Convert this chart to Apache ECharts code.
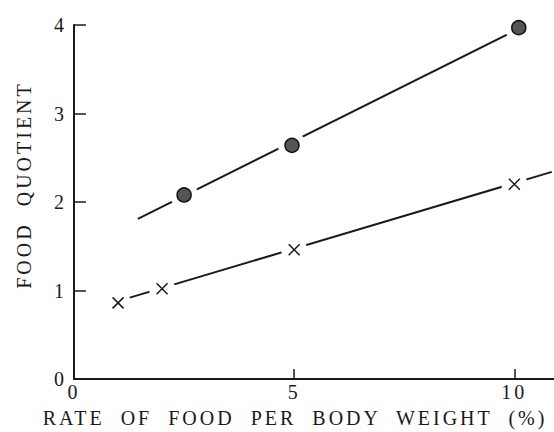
<!DOCTYPE html>
<html><head><meta charset="utf-8">
<script src="https://cdn.jsdelivr.net/npm/echarts@6/dist/echarts.min.js"></script>
<style>
html,body{margin:0;padding:0;background:#fff}
#c{width:554px;height:432px}
#c text{letter-spacing:3px;word-spacing:8px}
</style></head><body><div id="c"></div>
<script>
const xTicks = [0, 5, 10];
const yTicks = [0, 1, 2, 3, 4];
const xTitle = 'RATE OF FOOD PER BODY WEIGHT (%)';
const yTitle = 'FOOD QUOTIENT';
const circleX = [2.5, 4.95, 10.1];
const circleY = [2.08, 2.64, 3.97];
const crossX = [1.0, 2.0, 5.0, 10.0];
const crossY = [0.86, 1.02, 1.46, 2.2];
const circleFitX = [1.45, 10.8];
const circleFitY = [1.81, 4.13];
const crossFitX = [1.0, 10.85];
const crossFitY = [0.88, 2.34];

const zip = (a, b) => a.map((v, i) => [v, b[i]]);
const ink = '#1a1a1a';
const font = 'Liberation Serif';

const chart = echarts.init(document.getElementById('c'), null, {renderer: 'svg'});
chart.setOption({
  animation: false,
  backgroundColor: '#fff',
  grid: {left: 74, right: 0, top: 25, bottom: 53, outerBoundsMode: 'none', containLabel: false},
  xAxis: {
    type: 'value', min: 0, max: 10.9,
    name: xTitle, nameLocation: 'middle', nameGap: 29,
    nameTextStyle: {fontFamily: font, fontSize: 20, color: ink, padding: [0, 38, 0, 0]},
    axisLine: {show: true, onZero: false, lineStyle: {color: ink, width: 2}},
    axisTick: {show: true, inside: true, length: 10, customValues: xTicks, lineStyle: {color: ink, width: 1.5}},
    axisLabel: {customValues: xTicks, margin: 3, fontFamily: font, fontSize: 20, color: ink},
    splitLine: {show: false}
  },
  yAxis: {
    type: 'value', min: 0, max: 4, interval: 1,
    name: yTitle, nameLocation: 'middle', nameGap: 40, nameRotate: 90,
    nameTextStyle: {fontFamily: font, fontSize: 20, color: ink, padding: [0, 0, 0, 34]},
    axisLine: {show: true, lineStyle: {color: ink, width: 2}},
    axisTick: {show: true, inside: true, length: 12, customValues: yTicks, lineStyle: {color: ink, width: 1.5}},
    axisLabel: {customValues: yTicks, margin: 7, fontFamily: font, fontSize: 20, color: ink},
    splitLine: {show: false}
  },
  series: [
    {type: 'line', data: zip(circleFitX, circleFitY), symbol: 'none', z: 2,
     lineStyle: {color: ink, width: 2}},
    {type: 'line', data: zip(crossFitX, crossFitY), symbol: 'none', z: 2,
     lineStyle: {color: ink, width: 2}},
    {type: 'scatter', data: zip(circleX, circleY), symbol: 'circle', symbolSize: 28, z: 3,
     itemStyle: {color: '#fff', opacity: 1}, silent: true},
    {type: 'scatter', data: zip(crossX, crossY), symbol: 'circle', symbolSize: 26, z: 3,
     itemStyle: {color: '#fff', opacity: 1}, silent: true},
    {type: 'scatter', data: zip(circleX, circleY), symbol: 'circle', symbolSize: 14, z: 4,
     itemStyle: {color: '#555', borderColor: '#111', borderWidth: 1.5, opacity: 1}},
    {type: 'scatter', data: zip(crossX, crossY), symbol: 'path://M0,0L10,10M10,0L0,10', symbolSize: 11, z: 4,
     itemStyle: {color: 'none', borderColor: ink, borderWidth: 1.5, opacity: 1}}
  ]
});
</script></body></html>
